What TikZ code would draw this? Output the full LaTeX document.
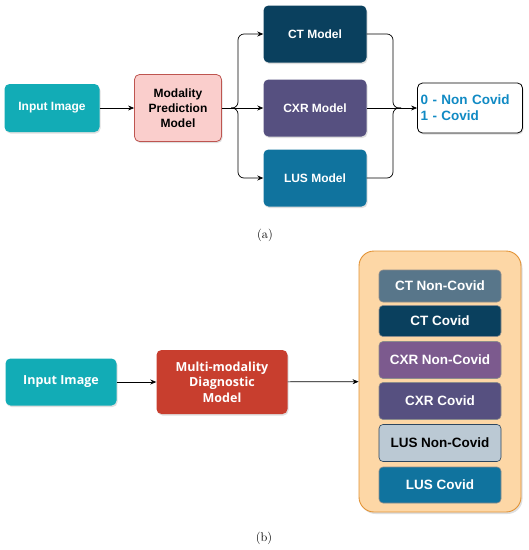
\documentclass[tikz,border=0pt]{standalone}
\usepackage{fontspec}
\newfontfamily\arialfont{Liberation Sans}
\newfontfamily\openfont{Open Sans}
\usetikzlibrary{arrows.meta,shadows}

\definecolor{inteal}{RGB}{18,172,182}
\definecolor{pinkfill}{RGB}{250,206,204}
\definecolor{pinkline}{RGB}{190,85,80}
\definecolor{ctnavy}{RGB}{10,64,94}
\definecolor{cxrpurple}{RGB}{86,80,128}
\definecolor{lusblue}{RGB}{16,115,158}
\definecolor{outtext}{RGB}{16,138,196}
\definecolor{diagred}{RGB}{200,62,46}
\definecolor{orfill}{RGB}{253,215,166}
\definecolor{orline}{RGB}{226,146,52}
\definecolor{ctslate}{RGB}{88,118,138}
\definecolor{cxrmauve}{RGB}{124,90,142}
\definecolor{lusgrey}{RGB}{187,201,212}
\definecolor{lusline}{RGB}{45,70,95}

\tikzset{
	box/.style={rounded corners=5pt, align=center, inner sep=2pt, text=white,
		font=\arialfont\bfseries\fontsize{12}{15}\selectfont,
		drop shadow={opacity=0.25, shadow xshift=1pt, shadow yshift=-1.5pt}},
	model/.style={box, minimum width=103pt, minimum height=57pt},
	cls/.style={rounded corners=4pt, align=center, text=white, draw=black!45, line width=0.6pt,
		minimum width=122pt, font=\arialfont\bfseries\fontsize{13.5}{15}\selectfont},
	link/.style={line width=0.7pt, -{Stealth[length=6pt,width=5pt]}},
	tag/.style={font=\fontsize{12.5}{14}\selectfont}
}

\begin{document}
\begin{tikzpicture}[x=1pt, y=-1pt]
	%%%%% START %%%%%
	\useasboundingbox (0,0) rectangle (529,550);
	
	% (a)
	\node[box, fill=inteal, minimum width=95pt, minimum height=48pt] (inA) at (52,108) {Input Image};
	\node[box, fill=pinkfill, draw=pinkline, line width=0.8pt, text=black, minimum width=87pt, minimum height=67pt] (mod) at (178,108) {Modality\\Prediction\\Model};
	
	\node[model, fill=ctnavy] (ct) at (315,34) {CT Model};
	\node[model, fill=cxrpurple] (cxr) at (315,108) {CXR Model};
	\node[model, fill=lusblue] (lus) at (315,178) {LUS Model};
	
	\node[draw=black, fill=white, line width=0.8pt, rounded corners=5pt, minimum width=105pt, minimum height=50pt, text width=99pt, align=left, inner sep=3pt, text=outtext, font=\arialfont\bfseries\fontsize{13.5}{16}\selectfont, drop shadow={opacity=0.25, shadow xshift=1pt, shadow yshift=-1.5pt}] (out) at (470,108) {0 - Non Covid\\1 - Covid};
	
	\coordinate (brn) at (238,108);
	\coordinate (mrg) at (393,108);
	
	\draw[link] (inA) -- (mod);
	\draw[link] (mod) -- (cxr);
	\draw[link, rounded corners=6pt] ([xshift=-7pt]brn) -- (brn) |- (ct.west);
	\draw[link, rounded corners=6pt] ([xshift=-7pt]brn) -- (brn) |- (lus.west);
	
	\draw[line width=0.7pt, rounded corners=6pt] (ct.east) -| (mrg) -- ++(8,0);
	\draw[line width=0.7pt, rounded corners=6pt] (lus.east) -| (mrg) -- ++(8,0);
	\draw[link] (cxr) -- (out);
	
	\node[tag] (capA) at (265,235) {(a)};
	
	% (b)
	\node[box, fill=inteal, minimum width=111pt, minimum height=47pt, font=\openfont\bfseries\fontsize{12.5}{15}\selectfont] (inB) at (61,382) {Input Image};
	\node[box, fill=diagred, minimum width=131pt, minimum height=64pt, font=\openfont\bfseries\fontsize{12.5}{15.5}\selectfont] (diag) at (222,382) {Multi-modality\\Diagnostic\\Model};
	
	\node[draw=orline, fill=orfill, line width=0.9pt, rounded corners=15pt, minimum width=162pt, minimum height=261pt, drop shadow={opacity=0.25, shadow xshift=1.5pt, shadow yshift=-2pt}] (res) at (440,381.5) {};
	
	\node[cls, fill=ctslate, minimum height=32pt] (ctn) at (440,286) {CT Non-Covid};
	\node[cls, fill=ctnavy, minimum height=31pt] (ctc) at (440,321) {CT Covid};
	\node[cls, fill=cxrmauve, minimum height=37pt] (cxrn) at (440,360) {CXR Non-Covid};
	\node[cls, fill=cxrpurple, minimum height=37pt] (cxrc) at (440,401) {CXR Covid};
	\node[cls, fill=lusgrey, draw=lusline, text=black, minimum height=37pt] (lusn) at (440,443) {LUS Non-Covid};
	\node[cls, fill=lusblue, minimum height=36pt] (lusc) at (440,485) {LUS Covid};
	
	\draw[link] (inB) -- (diag);
	\draw[link] (diag) -- (res);
	
	\node[tag] (capB) at (264,538) {(b)};
	%%%%% END %%%%%
\end{tikzpicture}
\end{document}
